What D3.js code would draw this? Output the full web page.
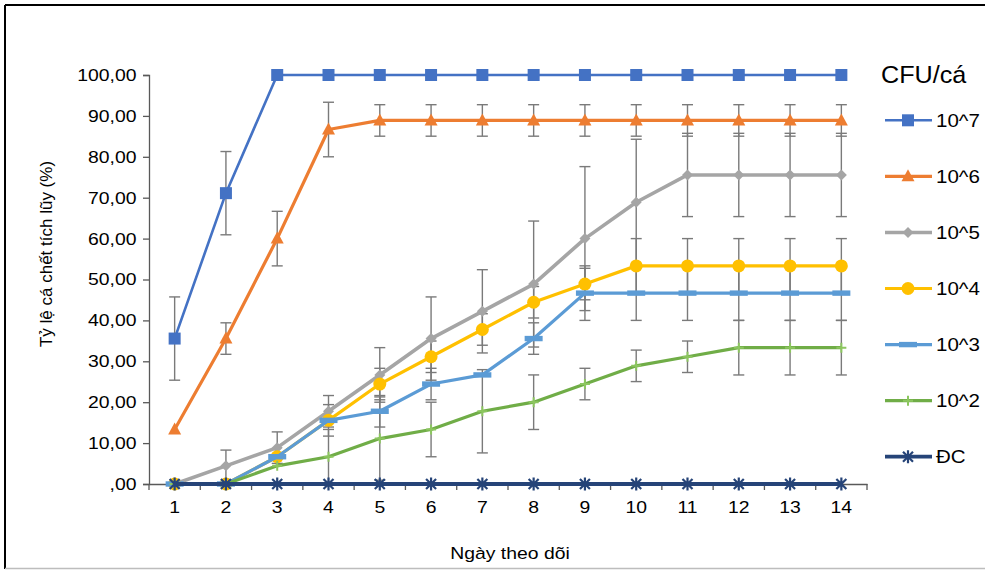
<!DOCTYPE html>
<html lang="vi">
<head>
<meta charset="UTF-8" />
<title>Tỷ lệ cá chết tích lũy</title>
<script src="https://cdn.jsdelivr.net/npm/d3@7"></script>
<style>
  body { margin: 0; background: #fff; }
  svg { display: block; font-family: "Liberation Sans", Arial, sans-serif; }
</style>
</head>
<body>
<svg width="985" height="572"></svg>
<script>
// ngày theo dõi
const days = [1, 2, 3, 4, 5, 6, 7, 8, 9, 10, 11, 12, 13, 14];
const yTicks = [0, 10, 20, 30, 40, 50, 60, 70, 80, 90, 100];
const seriesNames = ["10^7", "10^6", "10^5", "10^4", "10^3", "10^2", "ĐC"];

// tỷ lệ chết tích lũy (%) theo từng nồng độ
const v107 = [35.56, 71.11, 100, 100, 100, 100, 100, 100, 100, 100, 100, 100, 100, 100];
const v106 = [13.33, 35.56, 60, 86.67, 88.89, 88.89, 88.89, 88.89, 88.89, 88.89, 88.89, 88.89, 88.89, 88.89];
const v105 = [0, 4.44, 8.89, 17.78, 26.67, 35.56, 42.22, 48.89, 60, 68.89, 75.56, 75.56, 75.56, 75.56];
const v104 = [0, 0, 6.67, 15.56, 24.44, 31.11, 37.78, 44.44, 48.89, 53.33, 53.33, 53.33, 53.33, 53.33];
const v103 = [0, 0, 6.67, 15.56, 17.78, 24.44, 26.67, 35.56, 46.67, 46.67, 46.67, 46.67, 46.67, 46.67];
const v102 = [0, 0, 4.44, 6.67, 11.11, 13.33, 17.78, 20, 24.44, 28.89, 31.11, 33.33, 33.33, 33.33];
const vDC = [0, 0, 0, 0, 0, 0, 0, 0, 0, 0, 0, 0, 0, 0];

// độ lệch chuẩn (thanh sai số)
const e107 = [10.18, 10.18, 0, 0, 0, 0, 0, 0, 0, 0, 0, 0, 0, 0];
const e106 = [0, 3.85, 6.67, 6.67, 3.85, 3.85, 3.85, 3.85, 3.85, 3.85, 3.85, 3.85, 3.85, 3.85];
const e105 = [0, 3.85, 3.85, 3.85, 6.67, 10.18, 10.18, 15.4, 17.6, 15.4, 10.18, 10.18, 10.18, 10.18];
const e104 = [0, 0, 0, 3.85, 3.85, 3.85, 3.85, 3.85, 3.85, 6.67, 6.67, 6.67, 6.67, 6.67];
const e103 = [0, 0, 0, 0, 3.85, 3.85, 0, 3.85, 6.67, 6.67, 6.67, 6.67, 6.67, 6.67];
const e102 = [0, 0, 0, 6.67, 10.18, 6.67, 10.18, 6.67, 3.85, 3.85, 3.85, 6.67, 6.67, 6.67];
const eDC = [0, 0, 0, 0, 0, 0, 0, 0, 0, 0, 0, 0, 0, 0];

const colors = ["#4472C4", "#ED7D31", "#A5A5A5", "#FFC000", "#5B9BD5", "#70AD47", "#264478"];
const markers = ["square", "triangle", "diamond", "circle", "dash", "plus", "star"];
const widths = [2.6, 3.2, 3.6, 3.2, 3.2, 3.2, 3.8];

const series = seriesNames.map((name, i) => ({
  name,
  values: [v107, v106, v105, v104, v103, v102, vDC][i],
  errors: [e107, e106, e105, e104, e103, e102, eDC][i],
  color: colors[i],
  marker: markers[i],
  width: widths[i]
}));

const svg = d3.select("svg");
const stretch = "scale(1.14,1)"; // chữ trong ảnh gốc hơi bè ngang

// khung ngoài
svg.append("line").attr("x1", 5).attr("x2", 985).attr("y1", 5).attr("y2", 5)
  .attr("stroke", "#000").attr("stroke-width", 2);
svg.append("line").attr("x1", 5).attr("x2", 5).attr("y1", 5).attr("y2", 569)
  .attr("stroke", "#000").attr("stroke-width", 2);
svg.append("line").attr("x1", 5).attr("x2", 985).attr("y1", 568.5).attr("y2", 568.5)
  .attr("stroke", "#bdbdbd").attr("stroke-width", 1.5);

const x = d3.scaleBand().domain(days).range([149, 867]).paddingInner(0);
const xc = d => x(d) + x.bandwidth() / 2;
const y = d3.scaleLinear().domain([0, 100]).range([484, 75]);

const fmt = d => d === 0 ? ",00" : d3.format(".2f")(d).replace(".", ",");

// trục y
const gy = svg.append("g").attr("transform", "translate(149,0)")
  .call(d3.axisLeft(y).tickValues(yTicks).tickFormat(fmt).tickSize(6).tickPadding(5));
gy.select(".domain").attr("stroke", "#595959").attr("stroke-width", 1.3);
gy.selectAll(".tick line").attr("stroke", "#595959").attr("stroke-width", 1.3);
gy.selectAll(".tick text").attr("font-size", 17).attr("fill", "#000")
  .attr("font-family", "Liberation Sans, Arial, sans-serif").attr("transform", stretch);

// trục x
const gx = svg.append("g").attr("transform", "translate(0,484)")
  .call(d3.axisBottom(x).tickSize(0).tickPadding(17));
gx.select(".domain").attr("stroke", "#595959").attr("stroke-width", 1.3);
gx.selectAll(".tick text").attr("font-size", 17).attr("fill", "#000")
  .attr("font-family", "Liberation Sans, Arial, sans-serif").attr("transform", stretch);
gx.selectAll(".bound").data(days.map(d => x(d)).concat([x.range()[1]]))
  .join("line").attr("class", "bound")
  .attr("x1", d => d).attr("x2", d => d).attr("y1", 0).attr("y2", 6)
  .attr("stroke", "#595959").attr("stroke-width", 1.3);

// tiêu đề trục
svg.append("text").attr("transform", "translate(510,559) " + stretch)
  .attr("text-anchor", "middle").attr("font-size", 17).text("Ngày theo dõi");
svg.append("text").attr("transform", "translate(52,254) rotate(-90)")
  .attr("text-anchor", "middle").attr("font-size", 17).text("Tỷ lệ cá chết tích lũy (%)");

// thanh sai số
const errG = svg.append("g");
series.forEach(s => {
  const pts = days.map((d, i) => ({ d, v: s.values[i], e: s.errors[i] })).filter(p => p.e > 0);
  const g = errG.append("g").attr("stroke", "#7a7a7a").attr("stroke-width", 1.4).attr("fill", "none");
  g.selectAll(".v").data(pts).join("line")
    .attr("x1", p => xc(p.d)).attr("x2", p => xc(p.d))
    .attr("y1", p => y(Math.min(100, p.v + p.e))).attr("y2", p => y(Math.max(0, p.v - p.e)));
  [1, -1].forEach(sign => {
    g.selectAll(".c" + sign).data(pts).join("line")
      .attr("x1", p => xc(p.d) - 5.5).attr("x2", p => xc(p.d) + 5.5)
      .attr("y1", p => y(p.v + sign * p.e)).attr("y2", p => y(p.v + sign * p.e))
      .attr("stroke-opacity", p => (p.v + sign * p.e < 0 ? 0 : 1));
  });
});

function drawMarker(g, type, color) {
  if (type === "square") {
    g.append("rect").attr("x", -6).attr("y", -6).attr("width", 12).attr("height", 12).attr("fill", color);
  } else if (type === "triangle") {
    g.append("path").attr("d", "M0,-7L6.5,5L-6.5,5Z").attr("fill", color);
  } else if (type === "diamond") {
    g.append("path").attr("d", "M0,-5.5L5.5,0L0,5.5L-5.5,0Z").attr("fill", color);
  } else if (type === "circle") {
    g.append("circle").attr("r", 6.5).attr("fill", color);
  } else if (type === "dash") {
    g.append("rect").attr("x", -9).attr("y", -2.7).attr("width", 18).attr("height", 5.4).attr("fill", color);
  } else if (type === "plus") {
    g.append("path").attr("d", "M-5,0H5M0,-5V5").attr("stroke", "#8cc65f").attr("stroke-width", 2);
  } else if (type === "star") {
    g.append("path").attr("d", "M-5,-5L5,5M-5,5L5,-5M0,-6.5V6.5")
      .attr("stroke", color).attr("stroke-width", 2.2);
  }
}

// đường và điểm (vẽ theo thứ tự, ĐC nằm trên cùng)
const line = d3.line().x(p => xc(p.d)).y(p => y(p.v));
series.forEach(s => {
  const pts = days.map((d, i) => ({ d, v: s.values[i] }));
  svg.append("path").datum(pts).attr("d", line)
    .attr("fill", "none").attr("stroke", s.color).attr("stroke-width", s.width)
    .attr("stroke-linejoin", "round");
  pts.forEach(p => {
    const g = svg.append("g").attr("transform", `translate(${xc(p.d)},${y(p.v)})`);
    drawMarker(g, s.marker, s.color);
  });
});

// chú giải
const leg = svg.append("g");
leg.append("text").attr("transform", "translate(881,83) scale(1.05,1)").attr("font-size", 24).text("CFU/cá");
series.forEach((s, i) => {
  const ly = 120.3 + i * 56.07;
  const g = leg.append("g").attr("transform", `translate(0,${ly})`);
  g.append("line").attr("x1", 885).attr("x2", 932).attr("y1", 0).attr("y2", 0)
    .attr("stroke", s.color).attr("stroke-width", s.width);
  drawMarker(g.append("g").attr("transform", "translate(908,0)"), s.marker, s.color);
  g.append("text").attr("transform", "translate(936,0) " + stretch).attr("dy", "0.35em")
    .attr("font-size", 18).text(s.name);
});
</script>
</body>
</html>
